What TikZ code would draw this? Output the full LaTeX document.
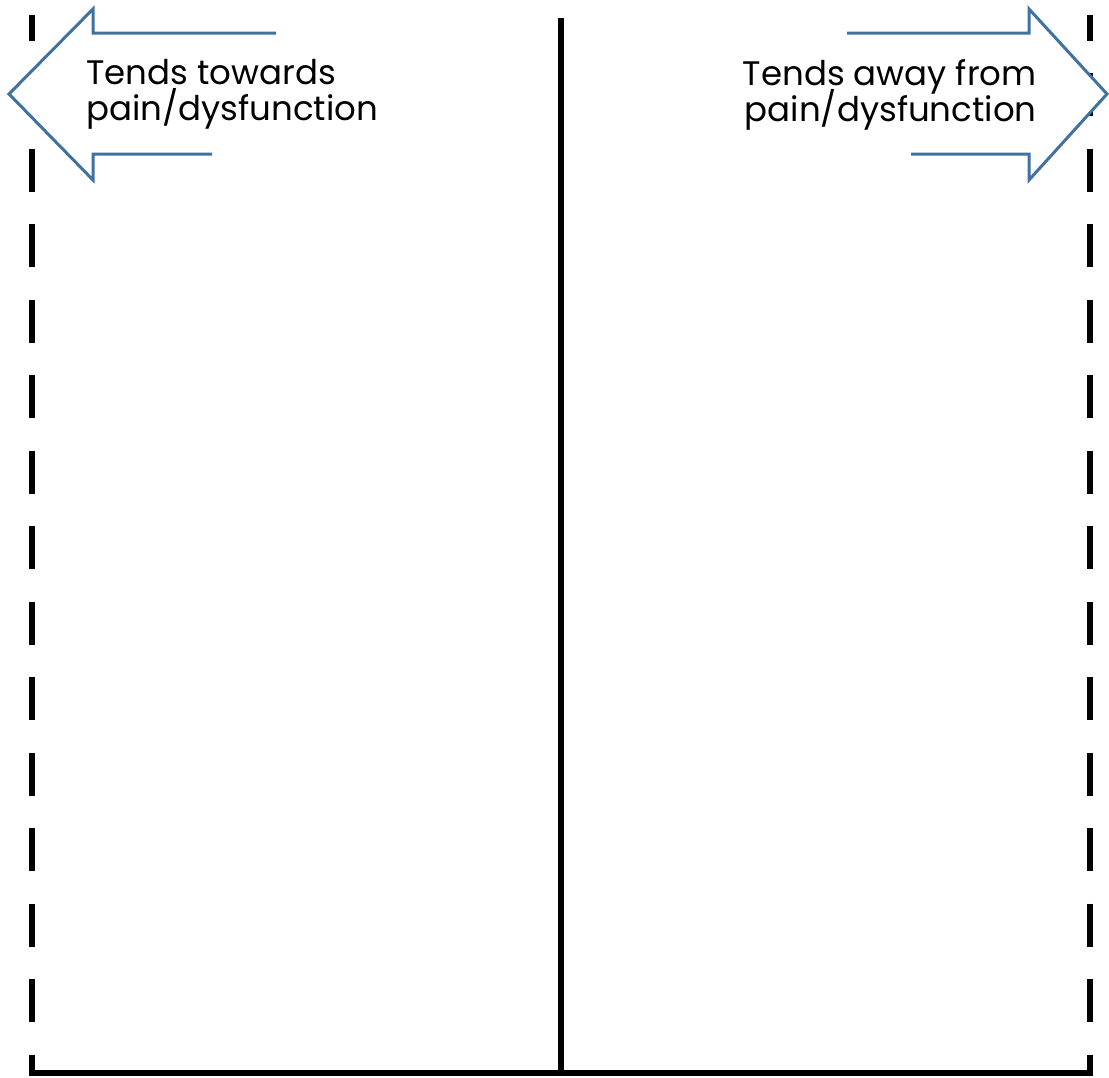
\documentclass[tikz,border=0pt]{standalone}
\usepackage{fontspec}
\setmainfont{Poppins}
\usetikzlibrary{positioning}
\definecolor{arrowBlue}{HTML}{41729F}
\setlength{\lineskiplimit}{-20pt}

\begin{document}
\begin{tikzpicture}[x=0.5pt, y=-0.5pt,
  frame/.style={draw=black, line width=2.6pt},
  bound/.style={frame, dash pattern=on 21.5pt off 16.25pt, dash phase=8.75pt},
  bigarrow/.style={draw=arrowBlue, line width=1.5pt, fill=white, line join=miter},
  caption/.style={font=\fontsize{17}{18}\selectfont, inner sep=0pt}]

\useasboundingbox (0,0) rectangle (1109,1077);

% frame corners
\coordinate (topL) at (32,15);
\coordinate (botL) at (32,1073);
\coordinate (topR) at (1090,15);
\coordinate (botR) at (1090,1073);
\coordinate (topM) at (561,18);
\coordinate (botM) at (561,1073);

\draw[bound] (topL) -- (botL);
\draw[bound] (topR) -- (botR);
\draw[frame] (topM) -- (botM);
\draw[frame] ([xshift=-1.3pt]botL) -- ([xshift=1.3pt]botR);

% open arrows
\draw[bigarrow] (276,33) -- (93,33) -- (93,9) -- (9,94) -- (93,180)
  -- (93,154) -- (212,154);
\draw[bigarrow] (847,33) -- (1029,33) -- (1029,9) -- (1107,94) -- (1029,180)
  -- (1029,154) -- (911,154);

\node[caption, anchor=north west, align=left] (towards) at (86,59)
  {Tends towards\\pain/dysfunction};
\node[caption, anchor=north east, align=right] (away) at (1037,59)
  {Tends away from\\pain/dysfunction};

\end{tikzpicture}
\end{document}
